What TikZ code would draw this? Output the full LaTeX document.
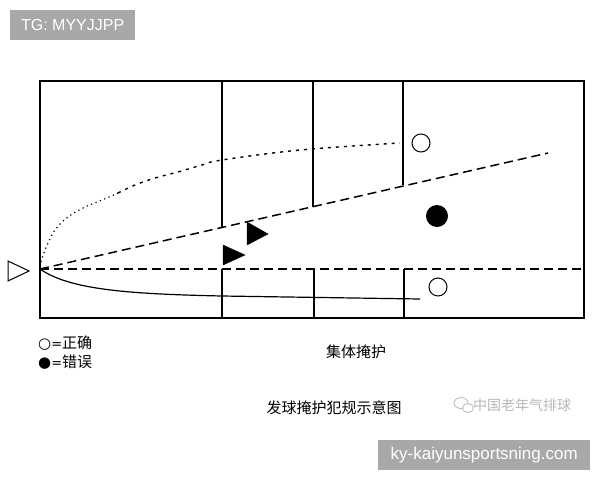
\documentclass[tikz,border=0pt]{standalone}
\usepackage{fontspec}
\setmainfont{Liberation Sans}
\newfontfamily\cjk{Noto Sans CJK SC}
\newfontfamily\dejavu{DejaVu Sans}
\definecolor{boxgray}{HTML}{A8A8A8}
\definecolor{wmgray}{HTML}{B8B8B8}
\tikzset{
  court/.style={line width=1.2pt, black},
  longdash/.style={line width=1.5pt, dash pattern=on 9pt off 5pt},
  dotline/.style={line width=1.4pt, dash pattern=on 3pt off 5pt},
  fineline/.style={line width=1.2pt, dash pattern=on 1.2pt off 3.5pt},
  solidcurve/.style={line width=1.2pt},
  player/.style={fill=black, draw=black},
  ball/.style={line width=1pt, draw=black, fill=white},
  label/.style={font=\cjk\fontsize{15}{17}\selectfont, inner sep=0pt},
  tag/.style={fill=boxgray, text=white, inner sep=0pt, font=\fontsize{16}{18}\selectfont}
}
\begin{document}
\begin{tikzpicture}[x=1pt,y=-1pt]
\useasboundingbox (0,0) rectangle (600,480);
\fill[white] (0,0) rectangle (600,480);

% watermark top
\node[tag, minimum width=125pt, minimum height=30pt, anchor=north west] (tg) at (10,10) {TG: MYYJJPP};

% court
\draw[court] (40,81) rectangle (584,318);
\coordinate (o) at (40,269);
\coordinate (e) at (584,269);
\draw[longdash] (o) -- (e);
\coordinate (d2) at (548,153);
\draw[longdash] (o) -- (d2);
% vertical lines
\draw[court] (222,81) -- (222,227);
\draw[court] (222,269) -- (222,318);
\draw[court] (313,81) -- (313,207);
\draw[court] (314,269) -- (314,318);
\draw[court] (403,81) -- (403,185);
\draw[court] (404,269) -- (404,318);

% dotted curve
\draw[fineline] plot[smooth, tension=0.6] coordinates {(41,262) (45,250) (55,230) (68,217) (85,207) (102,200) (118,193)};
\draw[dotline] plot[smooth, tension=0.6] coordinates {(118,193) (135,185) (155,178) (178,172) (202,165) (222,160) (300,150) (400,143)};

% solid curve
\draw[solidcurve] (o) .. controls (70,290) and (130,294) .. (222,296) -- (420,299);

% players
\draw[player] (223,245) -- (223,265) -- (245,255) -- cycle;
\draw[player] (247,222) -- (247,245) -- (268,234) -- cycle;
\draw[line width=1pt] (8,261) -- (8,281) -- (29,271) -- cycle;

% balls
\draw[ball] (421,143) circle (9);
\fill[black] (437,216) circle (11);
\draw[ball] (438,287) circle (9);

% legend
\node[anchor=west, inner sep=0pt] (lg1) at (38,343) {\dejavu\fontsize{15}{17}\selectfont ○\fontsize{13}{15}\selectfont=\cjk\fontsize{15}{17}\selectfont 正确};
\node[anchor=west, inner sep=0pt] (lg2) at (38,362) {\dejavu\fontsize{15}{17}\selectfont ●\fontsize{13}{15}\selectfont=\cjk\fontsize{15}{17}\selectfont 错误};

\node[label] (t1) at (356,352) {集体掩护};
\node[label] (t2) at (334,408) {发球掩护犯规示意图};

% wechat watermark
\draw[wmgray, line width=0.8pt] (461,403) ellipse (7 and 5.5);
\draw[wmgray, line width=0.8pt, fill=white] (468,408) ellipse (5.5 and 4.5);
\node[anchor=west, inner sep=0pt, text=wmgray, font=\cjk\fontsize{14}{16}\selectfont] (wm) at (473,405) {中国老年气排球};

% bottom tag
\node[tag, minimum width=212pt, minimum height=30pt, anchor=north west, font=\fontsize{17}{19}\selectfont] (site) at (378,440) {ky-kaiyunsportsning.com};
\end{tikzpicture}
\end{document}
